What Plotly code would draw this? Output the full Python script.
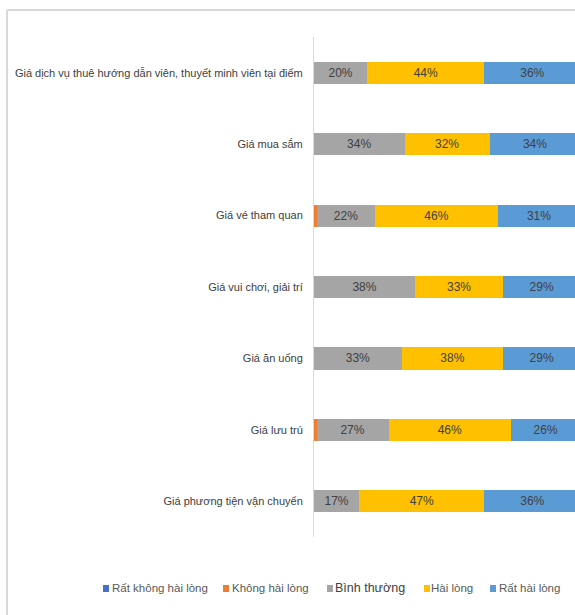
import plotly.graph_objects as go

categories = [
    "Giá dịch vụ thuê hướng dẫn viên, thuyết minh viên tại điểm",
    "Giá mua sắm",
    "Giá vé tham quan",
    "Giá vui chơi, giải trí",
    "Giá ăn uống",
    "Giá lưu trú",
    "Giá phương tiện vận chuyển",
]
series_names = ["Rất không hài lòng", "Không hài lòng", "Bình thường", "Hài lòng", "Rất hài lòng"]
rat_khong_hai_long = [0, 0, 0, 0, 0, 0, 0]
khong_hai_long = [0, 0, 1, 0, 0, 1, 0]
binh_thuong = [20, 34, 22, 38, 33, 27, 17]
hai_long = [44, 32, 46, 33, 38, 46, 47]
rat_hai_long = [36, 34, 31, 29, 29, 26, 36]

colors = ["#4472C4", "#ED7D31", "#A5A5A5", "#FFC000", "#5B9BD5"]
all_values = [rat_khong_hai_long, khong_hai_long, binh_thuong, hai_long, rat_hai_long]
labelled = [False, False, True, True, True]

FONT = "Liberation Sans, Arial, sans-serif"

W, H = 575, 615
ML, MR, MT, MB = 314, 0, 37, 78
PW, PH = W - ML - MR, H - MT - MB


def px(x):
    return (x - ML) / PW


def py(y):
    return (H - MB - y) / PH


fig = go.Figure()
for name, vals, col, lab in zip(series_names, all_values, colors, labelled):
    fig.add_trace(go.Bar(
        y=categories,
        x=[v / 100 for v in vals],
        name=name,
        orientation="h",
        marker=dict(color=col, line=dict(width=0)),
        text=[f"{v}%" for v in vals] if lab else None,
        textposition="inside" if lab else "none",
        insidetextanchor="middle",
        textangle=0,
        insidetextfont=dict(family=FONT, size=12, color="#404040"),
        showlegend=False,
        hoverinfo="skip",
    ))

shapes = [
    # outer frame of the chart area
    dict(type="line", xref="paper", yref="paper", x0=px(7), x1=px(7), y0=py(10), y1=py(640),
         line=dict(color="#d9d9d9", width=2)),
    dict(type="line", xref="paper", yref="paper", x0=px(7), x1=px(600), y0=py(10), y1=py(10),
         line=dict(color="#d9d9d9", width=2)),
]
annotations = []

# legend row: (square x, text x, font, size, colour)
legend_items = [
    (103, 110, FONT, 11.5, "#595959"),
    (223, 230, FONT, 11.5, "#595959"),
    (327, 333, FONT, 12.5, "#404040"),
    (424, 429, FONT, 11.5, "#595959"),
    (490, 497, FONT, 11.5, "#595959"),
]
legend_y = 588
for (sx, tx, fam, fs, fc), name, col in zip(legend_items, series_names, colors):
    shapes.append(dict(type="rect", xref="paper", yref="paper",
                       x0=px(sx), x1=px(sx + 6), y0=py(legend_y - 3), y1=py(legend_y + 4),
                       fillcolor=col, line=dict(width=0)))
    annotations.append(dict(xref="paper", yref="paper", x=px(tx), y=py(legend_y),
                            xanchor="left", yanchor="middle", showarrow=False, text=name,
                            font=dict(family=fam, size=fs, color=fc)))

fig.update_layout(
    width=W, height=H,
    margin=dict(l=ML, r=MR, t=MT, b=MB, autoexpand=False),
    barmode="stack",
    bargap=0.69,
    plot_bgcolor="white",
    paper_bgcolor="white",
    showlegend=False,
    shapes=shapes,
    annotations=annotations,
    xaxis=dict(range=[0, 0.98], visible=False, fixedrange=True),
    yaxis=dict(
        categoryorder="array", categoryarray=categories, autorange="reversed",
        automargin=False,
        showline=True, linecolor="#d9d9d9", linewidth=1,
        showgrid=False, ticks="", ticklabelstandoff=8,
        tickfont=dict(family=FONT, size=11, color="#404040"),
    ),
)

fig.write_html("out.html")
